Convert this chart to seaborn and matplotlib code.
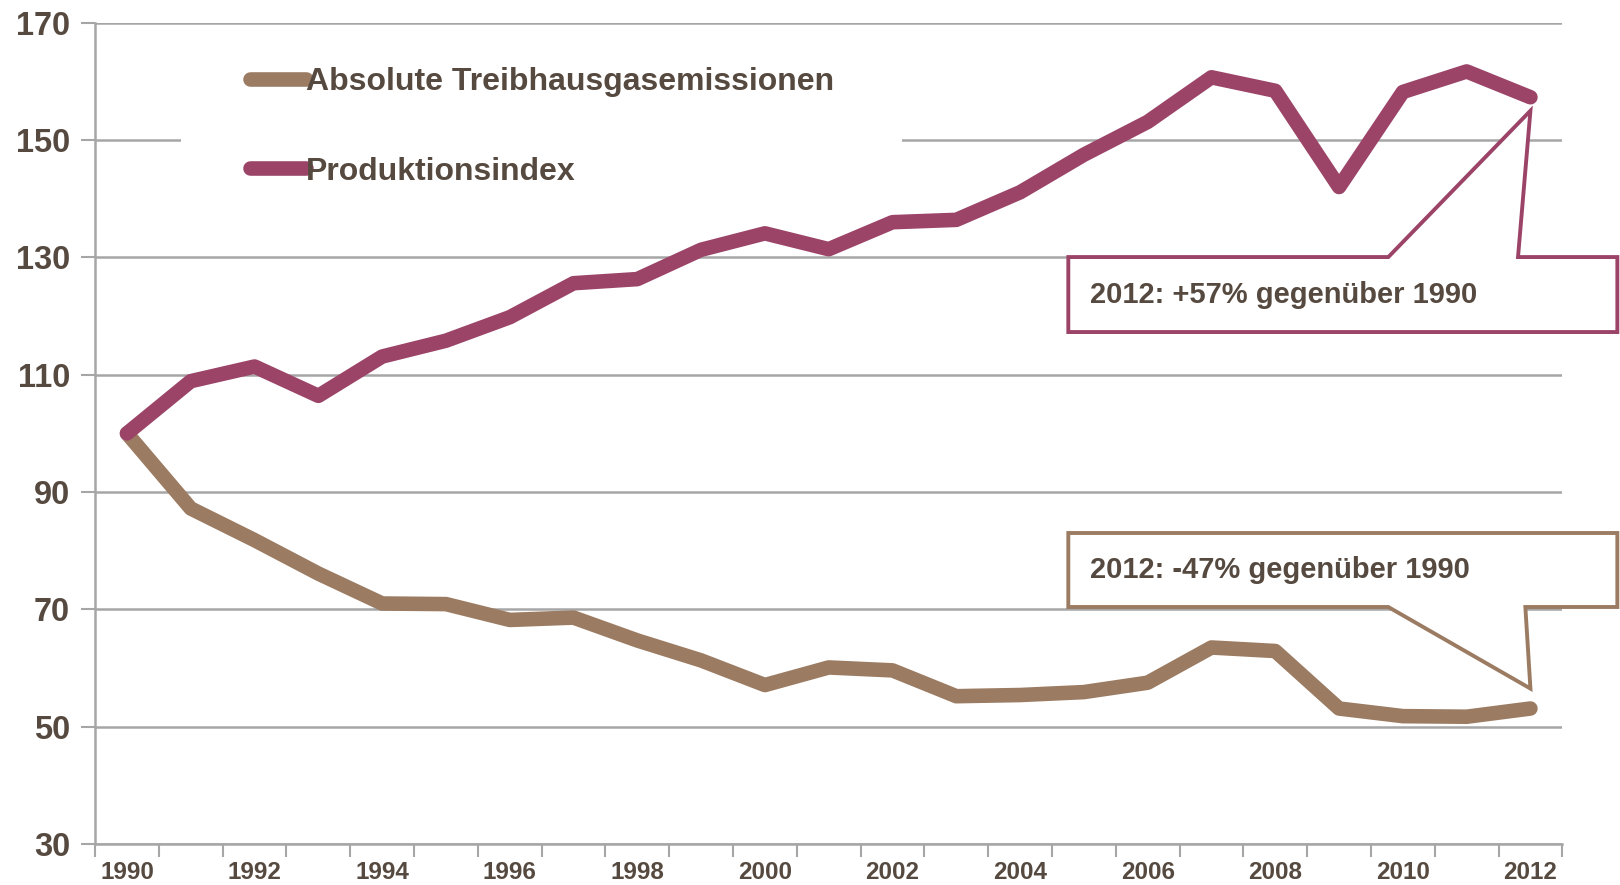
import pandas as pd
import matplotlib
matplotlib.use('Agg')
import matplotlib.pyplot as plt
import seaborn as sns
from matplotlib.patches import Polygon, Rectangle
from matplotlib.lines import Line2D

# data (index 1990 = 100)
years = list(range(1990, 2013))
produktion = [100, 108.9, 111.4, 106.4, 113.1, 115.8, 119.8, 125.6, 126.3, 131.3,
              134.1, 131.4, 136.0, 136.4, 141.1, 147.5, 153.1, 160.7, 158.4, 142.0,
              158.2, 161.7, 157.3]
emissionen = [100, 87.2, 81.8, 76.1, 71.0, 70.9, 68.2, 68.6, 64.7, 61.3,
              57.1, 60.1, 59.6, 55.2, 55.4, 55.9, 57.5, 63.5, 62.9, 53.1,
              51.8, 51.7, 53.1]
series_names = ['Absolute Treibhausgasemissionen', 'Produktionsindex']
callout_texts = ['2012: +57% gegenüber 1990', '2012: -47% gegenüber 1990']
y_ticks = [30, 50, 70, 90, 110, 130, 150, 170]

brown = '#9B7B62'
purple = '#9B4468'
txt = '#564A40'
grid = '#A6A6A6'

df = pd.DataFrame({
    'Jahr': years * 2,
    'Wert': emissionen + produktion,
    'Reihe': [series_names[0]] * len(years) + [series_names[1]] * len(years),
})

sns.set_theme(style='white')
plt.rcParams['font.family'] = ['Liberation Sans', 'DejaVu Sans']
plt.rcParams['font.weight'] = 'bold'

fig = plt.figure(figsize=(16.2, 8.85), dpi=100)
ax = fig.add_axes([0.0587, 0.0463, 0.9057, 0.928])

sns.lineplot(data=df, x='Jahr', y='Wert', hue='Reihe', palette=[brown, purple],
             linewidth=10.5, ax=ax, legend=False, sort=False)
for ln in ax.lines:
    ln.set_solid_capstyle('round')
    ln.set_solid_joinstyle('round')

ax.set_xlim(1989.5, 2012.5)
ax.set_ylim(30, 170)
ax.set_yticks(y_ticks)
ax.set_xticks(years[::2])
ax.set_xticks([y - 0.5 for y in years] + [2012.5], minor=True)
ax.tick_params(axis='x', which='major', length=0, pad=12, labelsize=17.5, labelcolor=txt)
ax.tick_params(axis='x', which='minor', length=9, width=1.5, color=grid, direction='out', bottom=True)
ax.tick_params(axis='y', length=10, width=1.5, color=grid, direction='out', left=True,
               labelsize=23.5, labelcolor=txt, pad=8)
ax.set_xlabel('')
ax.set_ylabel('')
ax.grid(axis='y', color=grid, linewidth=1.8)
ax.set_axisbelow(True)
for s in ['top', 'right']:
    ax.spines[s].set_visible(False)
for s in ['left', 'bottom']:
    ax.spines[s].set_color(grid)
    ax.spines[s].set_linewidth(1.8)

# white area behind the legend (hides the 150 gridline there)
ax.add_patch(Rectangle((0.0585, 0.80), 0.4915, 0.14, transform=ax.transAxes,
                       facecolor='white', edgecolor='none', zorder=1.5))

# legend
handles = [Line2D([0], [0], color=c, linewidth=10.5, solid_capstyle='round') for c in [brown, purple]]
leg = ax.legend(handles, series_names, loc='upper left', bbox_to_anchor=(0.1057, 0.946),
                frameon=False, handlelength=1.75, handletextpad=0.0, labelspacing=1.86,
                borderpad=0, borderaxespad=0, prop={'size': 23, 'weight': 'bold'})
for t in leg.get_texts():
    t.set_color(txt)

# callout boxes
to_axes = lambda x, y: ax.transAxes.inverted().transform(ax.transData.transform((x, y)))


def callout(y_top, y_bot, tip, above, color, text):
    x0, x1, b1, b2 = 0.6633, 1.0375, 0.8814, 0.9748
    tx, ty = to_axes(*tip)
    if above:
        pts = [(x0, y_top), (b1, y_top), (tx, ty), (b2 - 0.005, y_top), (x1, y_top),
               (x1, y_bot), (x0, y_bot)]
    else:
        pts = [(x0, y_top), (x1, y_top), (x1, y_bot), (b2, y_bot), (tx, ty),
               (b1, y_bot), (x0, y_bot)]
    poly = Polygon(pts, closed=True, transform=ax.transAxes, facecolor='white',
                   edgecolor=color, linewidth=2.8, clip_on=False, zorder=5,
                   joinstyle='miter')
    ax.add_patch(poly)
    ax.text(x0 + 0.0145, (y_top + y_bot) / 2, text, transform=ax.transAxes,
            fontsize=21, color=txt, va='center', ha='left', zorder=6)


callout(0.7147, 0.6234, (2012, 155), True, purple, callout_texts[0])
callout(0.3787, 0.2886, (2012, 56.5), False, brown, callout_texts[1])

plt.savefig('out.png', dpi=100)
